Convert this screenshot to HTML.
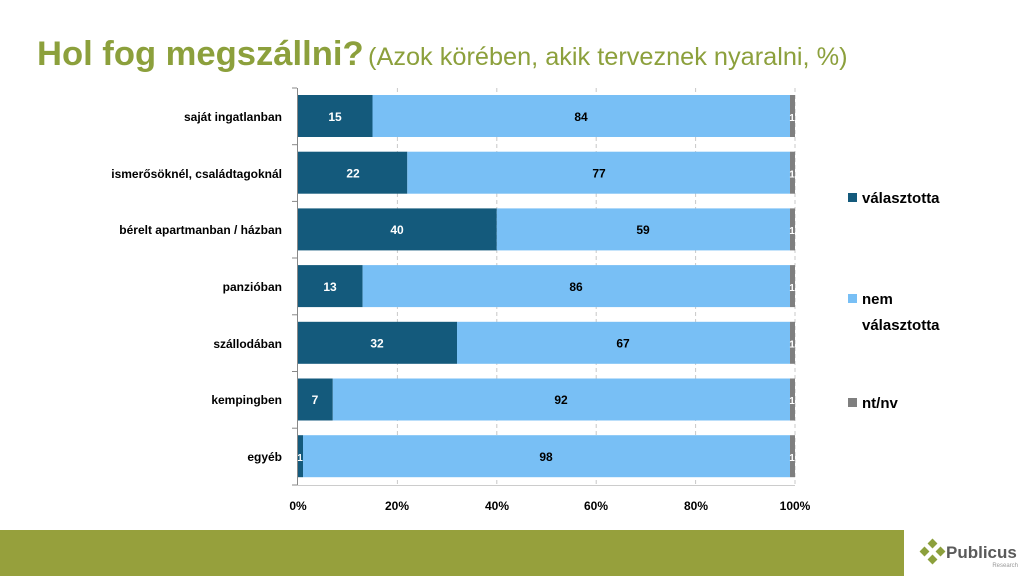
<!DOCTYPE html>
<html><head><meta charset="utf-8"><style>
body{margin:0;width:1024px;height:576px;background:#fff;position:relative;overflow:hidden;font-family:"Liberation Sans",sans-serif}
.t{position:absolute;left:37px;top:35px;white-space:nowrap;color:#8ca03c}
</style></head><body>
<div class="t"><span style="font-size:34.6px;font-weight:bold">Hol fog megszállni?</span> <span style="font-size:25.3px">(Azok körében, akik terveznek nyaralni, %)</span></div>
<svg width="1024" height="576" style="position:absolute;left:0;top:0" font-family="Liberation Sans, sans-serif">
<g stroke="#c8c8c8" stroke-dasharray="4,3">
<line x1="397.4" y1="88" x2="397.4" y2="485"/><line x1="496.8" y1="88" x2="496.8" y2="485"/><line x1="596.2" y1="88" x2="596.2" y2="485"/><line x1="695.6" y1="88" x2="695.6" y2="485"/><line x1="795" y1="88" x2="795" y2="485"/>
</g>
<line x1="297.5" y1="88" x2="297.5" y2="485" stroke="#888"/>
<line x1="297" y1="485.5" x2="795" y2="485.5" stroke="#ccc"/>
<g stroke="#888">
<line x1="292" y1="88" x2="297" y2="88"/><line x1="292" y1="144.7" x2="297" y2="144.7"/><line x1="292" y1="201.4" x2="297" y2="201.4"/><line x1="292" y1="258" x2="297" y2="258"/><line x1="292" y1="314.8" x2="297" y2="314.8"/><line x1="292" y1="371.5" x2="297" y2="371.5"/><line x1="292" y1="428.2" x2="297" y2="428.2"/><line x1="292" y1="485" x2="297" y2="485"/>
</g>
<g font-size="12" font-weight="bold" text-anchor="end" fill="#000">
<text x="282" y="121">saját ingatlanban</text>
<text x="282" y="178">ismerősöknél, családtagoknál</text>
<text x="282" y="234">bérelt apartmanban / házban</text>
<text x="282" y="291">panzióban</text>
<text x="282" y="348">szállodában</text>
<text x="282" y="404">kempingben</text>
<text x="282" y="461">egyéb</text>
</g>
<g font-size="12" font-weight="bold" text-anchor="middle">
<rect x="298" y="95" width="74.5" height="42" fill="#145a7c"/><rect x="372.5" y="95" width="417.5" height="42" fill="#78bff5"/><rect x="790" y="95" width="5" height="42" fill="#7f7f7f"/>
<text x="335" y="121" fill="#fff">15</text><text x="581" y="121">84</text><text x="792" y="121" fill="#fff" font-size="10">1</text>
<rect x="298" y="151.7" width="109.3" height="42" fill="#145a7c"/><rect x="407.3" y="151.7" width="382.7" height="42" fill="#78bff5"/><rect x="790" y="151.7" width="5" height="42" fill="#7f7f7f"/>
<text x="353" y="177.5" fill="#fff">22</text><text x="599" y="177.5">77</text><text x="792" y="177.5" fill="#fff" font-size="10">1</text>
<rect x="298" y="208.4" width="198.8" height="42" fill="#145a7c"/><rect x="496.8" y="208.4" width="293.2" height="42" fill="#78bff5"/><rect x="790" y="208.4" width="5" height="42" fill="#7f7f7f"/>
<text x="397" y="234" fill="#fff">40</text><text x="643" y="234">59</text><text x="792" y="234" fill="#fff" font-size="10">1</text>
<rect x="298" y="265.1" width="64.6" height="42" fill="#145a7c"/><rect x="362.6" y="265.1" width="427.4" height="42" fill="#78bff5"/><rect x="790" y="265.1" width="5" height="42" fill="#7f7f7f"/>
<text x="330" y="291" fill="#fff">13</text><text x="576" y="291">86</text><text x="792" y="291" fill="#fff" font-size="10">1</text>
<rect x="298" y="321.8" width="159" height="42" fill="#145a7c"/><rect x="457" y="321.8" width="333" height="42" fill="#78bff5"/><rect x="790" y="321.8" width="5" height="42" fill="#7f7f7f"/>
<text x="377" y="347.5" fill="#fff">32</text><text x="623" y="347.5">67</text><text x="792" y="347.5" fill="#fff" font-size="10">1</text>
<rect x="298" y="378.5" width="34.8" height="42" fill="#145a7c"/><rect x="332.8" y="378.5" width="457.2" height="42" fill="#78bff5"/><rect x="790" y="378.5" width="5" height="42" fill="#7f7f7f"/>
<text x="315" y="404" fill="#fff">7</text><text x="561" y="404">92</text><text x="792" y="404" fill="#fff" font-size="10">1</text>
<rect x="298" y="435.2" width="5" height="42" fill="#145a7c"/><rect x="303" y="435.2" width="487" height="42" fill="#78bff5"/><rect x="790" y="435.2" width="5" height="42" fill="#7f7f7f"/>
<text x="300" y="461" fill="#fff" font-size="10">1</text><text x="546" y="461">98</text><text x="792" y="461" fill="#fff" font-size="10">1</text>
</g>
<g font-size="12" font-weight="bold" text-anchor="middle">
<text x="298" y="510">0%</text><text x="397" y="510">20%</text><text x="497" y="510">40%</text><text x="596" y="510">60%</text><text x="696" y="510">80%</text><text x="795" y="510">100%</text>
</g>
<g font-size="15" font-weight="bold">
<rect x="848" y="193" width="9" height="9" fill="#145a7c"/><text x="862" y="203">választotta</text>
<rect x="848" y="294" width="9" height="9" fill="#78bff5"/><text x="862" y="304">nem</text><text x="862" y="330">választotta</text>
<rect x="848" y="398" width="9" height="9" fill="#7f7f7f"/><text x="862" y="408">nt/nv</text>
</g>
<rect x="0" y="530" width="904" height="46" fill="#96a03c"/>
<g fill="#8ca03c">
<rect x="929" y="540" width="7" height="7" transform="rotate(45 932.5 543.5)"/>
<rect x="921" y="548" width="7" height="7" transform="rotate(45 924.5 551.5)"/>
<rect x="937" y="548" width="7" height="7" transform="rotate(45 940.5 551.5)"/>
<rect x="929" y="556" width="7" height="7" transform="rotate(45 932.5 559.5)"/>
</g>
<text x="946" y="558" font-size="17" font-weight="bold" fill="#5a5a5a">Publicus</text>
<text x="1018" y="567" font-size="6" fill="#999" text-anchor="end">Research</text>
</svg>
</body></html>
